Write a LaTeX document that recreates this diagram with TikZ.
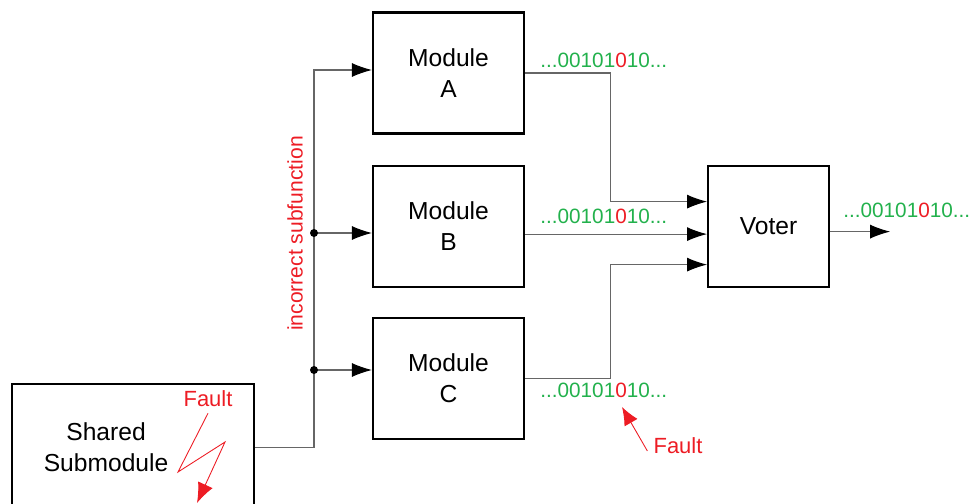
\documentclass[tikz,border=0pt]{standalone}
\usepackage{fontspec}
\setmainfont{Liberation Sans}
\usepackage{tikz}
\usetikzlibrary{arrows.meta,positioning,calc}
\definecolor{bitgreen}{HTML}{22B14C}
\definecolor{faultred}{HTML}{ED1C24}
\definecolor{wiregray}{HTML}{666666}
\newcommand{\bitstream}{\textcolor{bitgreen}{...00101}\textcolor{faultred}{0}\textcolor{bitgreen}{10...}}

\begin{document}
\begin{tikzpicture}[
  >={Latex[length=4mm,width=2.8mm,color=black]},
  block/.style={draw=black,line width=1.2pt,minimum width=30.2mm,
                minimum height=24.2mm,align=center,font=\fontsize{14}{18}\selectfont},
  flow/.style={->,line width=0.6pt,draw=wiregray},
  bits/.style={anchor=west,inner sep=0pt,font=\fontsize{11.8}{14}\selectfont},
  fault/.style={text=faultred,font=\fontsize{12.5}{15}\selectfont},
  faultline/.style={draw=faultred,line width=0.5pt,-{Latex[length=4mm,width=3.2mm]}},
  dot/.style={circle,fill=black,inner sep=0pt,minimum size=1.6mm}
]
\useasboundingbox (0,0) rectangle (19.46,-10.08);

\node[block] (modA) at (8.97,-1.46) {Module\\A};
\node[block,below=6mm of modA] (modB) {Module\\B};
\node[block,below=5.8mm of modB] (modC) {Module\\C};
\node[block,minimum width=24.2mm,right=36.4mm of modB] (voter) {Voter};
\node[block,minimum width=48.4mm,minimum height=25.2mm,anchor=north west] (shared) at (0.22,-7.66) {};
\node[align=center,font=\fontsize{14}{18}\selectfont] (sharedtxt) at ($(shared.center)+(-5.4mm,0)$) {Shared\\Submodule};

\coordinate (jA) at (6.28,-1.40);
\coordinate (jB) at (6.28,-4.66);
\coordinate (jC) at (6.28,-7.40);
\draw[flow] (shared.east) -| (jA) -- (jA -| modA.west);
\draw[flow] (jB) -- (jB -| modB.west);
\draw[flow] (jC) -- (jC -| modC.west);
\node[dot] (dotB) at (jB) {};
\node[dot] (dotC) at (jC) {};
\node[fault,rotate=90,font=\fontsize{12}{14}\selectfont] (subfn) at (5.9,-4.67) {incorrect subfunction};

\coordinate (inA) at ($(voter.west)+(0,4.9mm)$);
\coordinate (inB) at ($(voter.west)+(0,-1.6mm)$);
\coordinate (inC) at ($(voter.west)+(0,-7.7mm)$);
\draw[flow] (modA.east) -| ($(inA)+(-19.4mm,0)$) -- (inA);
\draw[flow] (modB.east |- inB) -- (inB);
\draw[flow] (modC.east) -| ($(inC)+(-19.4mm,0)$) -- (inC);
\coordinate (out) at ($(voter.east)+(12mm,-1.1mm)$);
\draw[flow] (voter.east |- out) -- (out);

\node[bits] (bitsA) at (10.8,-1.20) {\bitstream};
\node[bits] (bitsB) at (10.8,-4.32) {\bitstream};
\node[bits] (bitsC) at (10.8,-7.80) {\bitstream};
\node[bits] (bitsV) at (16.86,-4.20) {\bitstream};

\node[fault] (fault1) at (4.16,-7.98) {Fault};
\coordinate (bolt1) at (3.56,-9.44);
\coordinate (bolt2) at (4.50,-8.84);
\coordinate (bolttip) at (3.94,-10.06);
\draw[faultline] (fault1.south) -- (bolt1) -- (bolt2) -- (bolttip);

\node[fault] (fault2) at (13.56,-8.92) {Fault};
\coordinate (faulttip) at (12.44,-8.14);
\draw[faultline,-{Latex[length=3.6mm,width=3mm]}] ($(fault2.west)+(0,-1mm)$) -- (faulttip);
\end{tikzpicture}
\end{document}
